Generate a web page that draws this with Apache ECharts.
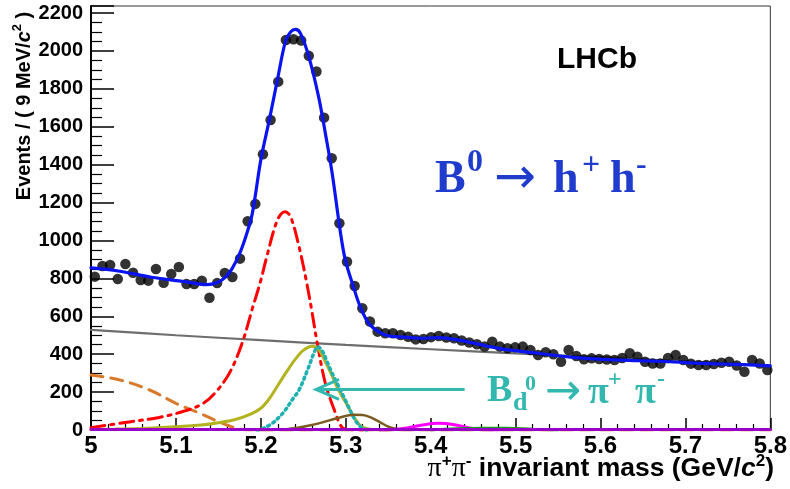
<!DOCTYPE html>
<html><head><meta charset="utf-8">
<script src="https://cdn.jsdelivr.net/npm/echarts@6/dist/echarts.min.js"></script>
<style>html,body{margin:0;padding:0;background:#fff}#c{width:790px;height:489px}</style>
</head><body><div id="c"></div>
<script>
// ---- histogram: pi+pi- invariant mass, 9 MeV bins from 5.0 GeV ----
const massMin = 5.0;
const binWidth = 0.009;
const counts = [
  809, 865, 871, 797, 876, 830, 791, 788, 849, 777,
  823, 860, 770, 770, 788, 698, 775, 828, 807, 904,
  1101, 1193, 1455, 1636, 1838, 2058, 2062, 2055, 1974, 1891,
  1648, 1434, 1091, 888, 760, 642, 572, 519, 510, 510,
  501, 492, 478, 480, 490, 496, 488, 484, 472, 462,
  452, 440, 466, 440, 431, 436, 440, 422, 396, 410,
  400, 360, 422, 390, 373, 378, 375, 372, 369, 380,
  405, 387, 360, 351, 351, 380, 396, 369, 350, 343,
  343, 348, 355, 360, 340, 307, 369, 351, 317
];
// ---- fit components, sampled (mass, events) ----
const totalFit = [[5.0,855],[5.032,839],[5.071,806],[5.11,783],[5.136,767],[5.149,778],[5.158,805],[5.166,850],[5.175,930],[5.183,1030],[5.19,1143],[5.2,1425],[5.21,1636],[5.2195,1847],[5.229,2050],[5.235,2100],[5.241,2114],[5.247,2090],[5.2565,1970],[5.268,1759],[5.276,1565],[5.284,1355],[5.2935,1050],[5.2995,897],[5.309,756],[5.317,651],[5.327,563],[5.3385,519],[5.35,497],[5.37,490],[5.389,484],[5.409,487],[5.428,478],[5.448,461],[5.467,442],[5.487,425],[5.526,405],[5.565,384],[5.604,373],[5.643,366],[5.682,360],[5.721,351],[5.76,346],[5.8,338]];
const combinatorial = [[5.0,528],[5.1,500],[5.2,474],[5.3,449],[5.4,426],[5.5,404],[5.6,384],[5.7,362],[5.8,340]];
const kpiMisId = [[5.0,12],[5.04,40],[5.08,66],[5.11,100],[5.13,135],[5.145,190],[5.163,300],[5.178,459],[5.19,640],[5.2,790],[5.206,897],[5.2195,1108],[5.2285,1152],[5.235,1126],[5.245,967],[5.253,800],[5.26,630],[5.266,470],[5.276,246],[5.288,88],[5.2955,15],[5.305,2],[5.32,0]];
const partialReco = [[5.0,290],[5.034,264],[5.069,211],[5.1,141],[5.128,88],[5.155,35],[5.175,5],[5.19,0],[5.8,0]];
const bsKK = [[5.0,3],[5.03,5],[5.06,8],[5.1,17],[5.13,26],[5.15,38],[5.17,55],[5.185,78],[5.2,115],[5.21,165],[5.22,235],[5.23,305],[5.24,370],[5.25,420],[5.2604,442],[5.268,425],[5.276,360],[5.284,285],[5.2915,211],[5.3,145],[5.307,88],[5.313,45],[5.319,17],[5.33,3],[5.35,0]];
const bdPiPi = [[5.195,0],[5.2,3],[5.2135,35],[5.222,70],[5.229,106],[5.237,160],[5.245,211],[5.2565,334],[5.262,400],[5.267,438],[5.272,420],[5.278,360],[5.284,299],[5.2995,158],[5.311,53],[5.318,15],[5.325,0]];
const bsPiK = [[5.2,0],[5.23,4],[5.26,26],[5.29,62],[5.31,80],[5.32,79],[5.33,65],[5.34,42],[5.35,18],[5.36,5],[5.37,0]];
const lbPK = [[5.34,0],[5.36,4],[5.37,9],[5.39,26],[5.409,35],[5.428,28],[5.448,9],[5.46,2],[5.48,0]];
const lbPPi = [[5.40,0],[5.43,6],[5.46,9],[5.49,9],[5.52,4],[5.55,0]];
const baseline = [[5.0,2],[5.8,2]];
const arrowFrom = [5.44, 214];
const arrowTo = [5.265, 214];

const binCenters = counts.map((_, i) => +(massMin + binWidth * (i + 0.5)).toFixed(4));
const points = counts.map((v, i) => [binCenters[i], v]);

const chart = echarts.init(document.getElementById('c'), null, {renderer: 'canvas'});
const sans = 'Liberation Sans, Arial, Helvetica, sans-serif';
const serif = 'Liberation Serif, Times New Roman, DejaVu Serif, serif';
const arrowFont = 'DejaVu Sans, sans-serif';

function curve(name, data, color, width, type, z) {
  return {name, type: 'line', data, showSymbol: false, smooth: 0.35, z: z || 2,
    lineStyle: {color, width, type: type || 'solid', cap: 'round'}, silent: true};
}

const option = {
  animation: false,
  backgroundColor: '#fff',
  grid: {left: 91, right: 16, top: 6, bottom: 59, show: true, borderColor: '#333', borderWidth: 1},
  xAxis: {
    type: 'value', min: 5.0, max: 5.8, interval: 0.1,
    axisLine: {lineStyle: {color: '#000', width: 2}},
    axisTick: {inside: true, length: 12, lineStyle: {color: '#000', width: 1.5}},
    minorTick: {show: true, splitNumber: 5, length: 6, lineStyle: {color: '#000', width: 1.2}},
    axisLabel: {color: '#000', fontSize: 24, fontWeight: 'bold', fontFamily: sans, margin: 4,
      formatter: v => String(+v.toFixed(1))},
    splitLine: {show: false}
  },
  yAxis: {
    type: 'value', min: 0, max: 2237, interval: 200,
    axisLine: {show: true, lineStyle: {color: '#000', width: 2}},
    axisTick: {inside: true, length: 23, lineStyle: {color: '#000', width: 1.5}},
    minorTick: {show: true, splitNumber: 4, length: 11, lineStyle: {color: '#000', width: 1.2}},
    axisLabel: {color: '#000', fontSize: 20, fontWeight: 'bold', fontFamily: sans, margin: 8,
      showMaxLabel: false, formatter: v => String(Math.round(v))},
    splitLine: {show: false}
  },
  series: [
    curve('baseline', baseline, '#9b00c8', 3, 'solid', 4),
    curve('combinatorial', combinatorial, '#6e6e6e', 2.2),
    curve('partial', partialReco, '#d97a2a', 3, [12, 8]),
    curve('kpi', kpiMisId, '#ff0000', 3, [14, 6, 3, 6]),
    curve('bsKK', bsKK, '#b3b320', 3),
    curve('bdpipi', bdPiPi, '#1fb0b0', 3.5, [2, 4]),
    curve('bspiK', bsPiK, '#7a5a1e', 2.5),
    curve('lbpK', lbPK, '#ff00ff', 3),
    curve('lbppi', lbPPi, '#1a9a1a', 3),
    {name: 'data', type: 'scatter', data: points, symbol: 'circle', symbolSize: 10.5,
      itemStyle: {color: '#000'}, z: 5, silent: true},
    curve('total', totalFit, '#0a14f0', 3.2, 'solid', 6)
  ]
};
chart.setOption(option);

const tip = chart.convertToPixel({gridIndex: 0}, arrowTo);
const tail = chart.convertToPixel({gridIndex: 0}, arrowFrom);
const teal = '#33b8b0';
const blue = '#1f3ccc';
function t(text, x, y, size, color, opts) {
  return {type: 'text', x, y, z: 20, style: Object.assign({text, fill: color,
    fontSize: size, fontWeight: 'bold', fontFamily: serif, align: 'left', verticalAlign: 'middle'}, opts || {})};
}
chart.setOption({graphic: [
  {type: 'line', z: 20, shape: {x1: tail[0], y1: tail[1], x2: tip[0], y2: tip[1]}, style: {stroke: teal, lineWidth: 3}},
  {type: 'polyline', z: 20, shape: {points: [[tip[0] + 23, tip[1] - 10], [tip[0], tip[1]], [tip[0] + 23, tip[1] + 10]]}, style: {stroke: teal, lineWidth: 3, fill: null}},
  // LHCb
  {type: 'text', x: 557, y: 60, z: 20, style: {text: 'LHCb', fill: '#000', fontSize: 30, fontWeight: 'bold', fontFamily: sans, verticalAlign: 'middle'}},
  // B0 -> h+ h-
  t('B', 435, 180, 46, blue),
  t('0', 467, 163, 32, blue),
  t('\u2192', 494, 180, 50, blue, {fontFamily: arrowFont, fontWeight: 'normal'}),
  t('h', 553, 180, 46, blue),
  t('+', 582, 166, 32, blue),
  t('h', 610, 180, 46, blue),
  t('-', 636, 166, 32, blue),
  // Bd0 -> pi+ pi-
  t('B', 487, 391, 38, teal),
  t('d', 513, 403, 26, teal),
  t('0', 525, 384, 22, teal),
  t('\u2192', 545, 393, 43, teal, {fontFamily: arrowFont, fontWeight: 'normal'}),
  t('\u03c0', 588, 393, 38, teal),
  t('+', 608, 380, 24, teal),
  t('\u03c0', 635, 393, 38, teal),
  t('-', 657, 380, 24, teal),
  // y axis title
  {type: 'text', x: 24, y: 106, rotation: Math.PI / 2, z: 20, style: {
    text: '{a|Events / ( 9 MeV/}{i|c}{s|2}{a| )}', align: 'center', verticalAlign: 'middle',
    rich: {
      a: {fontSize: 20, fontWeight: 'bold', fontFamily: sans, fill: '#000', lineHeight: 26},
      i: {fontSize: 20, fontWeight: 'bold', fontStyle: 'italic', fontFamily: sans, fill: '#000', lineHeight: 26},
      s: {fontSize: 13, fontWeight: 'bold', fontFamily: sans, fill: '#000', lineHeight: 13, verticalAlign: 'top'}
    }}},
  // x axis title
  {type: 'text', x: 774, y: 469, z: 20, style: {
    text: '{p|\u03c0}{s|+}{p|\u03c0}{s|-}{a| invariant mass (GeV/}{i|c}{s|2}{a|)}', align: 'right', verticalAlign: 'middle',
    rich: {
      p: {fontSize: 28, fontFamily: serif, fill: '#000', lineHeight: 32},
      a: {fontSize: 26.5, fontWeight: 'bold', fontFamily: sans, fill: '#000', lineHeight: 32},
      i: {fontSize: 26.5, fontWeight: 'bold', fontStyle: 'italic', fontFamily: sans, fill: '#000', lineHeight: 32},
      s: {fontSize: 17, fontWeight: 'bold', fontFamily: sans, fill: '#000', lineHeight: 17, verticalAlign: 'top'}
    }}}
]});
</script>
</body></html>
